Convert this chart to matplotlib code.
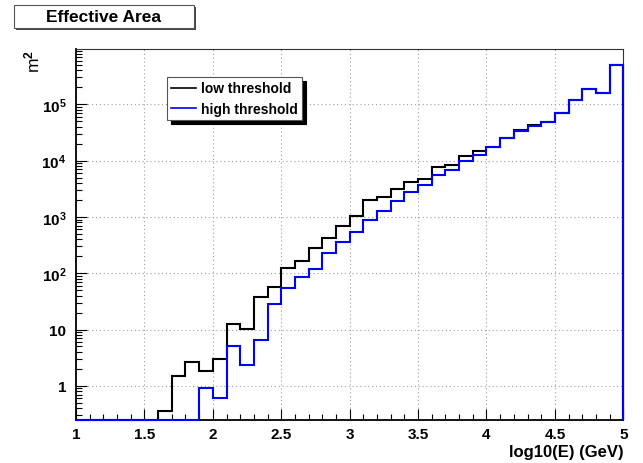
import numpy as np
import matplotlib
matplotlib.use("Agg")
import matplotlib.pyplot as plt
from matplotlib.patches import Rectangle, Shadow
from matplotlib.ticker import MultipleLocator, LogLocator, NullFormatter

plt.rcParams['font.family'] = ['Liberation Sans', 'DejaVu Sans']
plt.rcParams['font.weight'] = 'bold'
plt.rcParams['mathtext.fontset'] = 'custom'
plt.rcParams['mathtext.rm'] = 'Liberation Sans:bold'
plt.rcParams['mathtext.bf'] = 'Liberation Sans:bold'
plt.rcParams['mathtext.default'] = 'rm'

# histogram: 40 bins of log10(E) from 1 to 5
edges = np.linspace(1.0, 5.0, 41)
low_thr = [0, 0, 0, 0, 0, 0, 0.35, 1.49, 2.7, 1.85,
           3.0, 12.3, 10.3, 38, 56, 126, 168, 285, 430, 690,
           1055, 1970, 2230, 3180, 4160, 4780, 7600, 8260, 11900, 14600,
           17200, 24900, 34900, 43500, 49000, 70000, 119000, 187000, 161000, 499000]
high_thr = [0, 0, 0, 0, 0, 0, 0, 0, 0, 0.93,
            0.6, 5.0, 2.3, 6.4, 28.6, 54, 84, 121, 229, 359,
            540, 870, 1260, 1950, 2730, 3690, 5630, 6810, 10000, 12800,
            17200, 24900, 33100, 41700, 49000, 70000, 119000, 187000, 161000, 499000]
labels = ['low threshold', 'high threshold']
colors = ['black', '#0000ff']

ymin, ymax = 0.247, 9.5e5
yticks = [1, 10, 100, 1e3, 1e4, 1e5]
yticklabels = ['1', '10', '$10^{2}$', '$10^{3}$', '$10^{4}$', '$10^{5}$']
xticks = [1, 1.5, 2, 2.5, 3, 3.5, 4, 4.5, 5]
xticklabels = ['1', '1.5', '2', '2.5', '3', '3.5', '4', '4.5', '5']

fig = plt.figure(figsize=(6.43, 4.64), dpi=100)
ax = fig.add_axes([76/643, 43/464, 547.3/643, 370.7/464])

handles = []
for vals, lab, col in zip([low_thr, high_thr], labels, colors):
    v = np.maximum(np.array(vals, dtype=float), ymin)
    h = ax.stairs(v, edges, baseline=ymin, color=col, lw=1.5, label=lab,
                  zorder=3, clip_on=False)
    handles.append(h)

ax.set_yscale('log')
ax.set_xlim(1, 5)
ax.set_ylim(ymin, ymax)
ax.set_xticks(xticks)
ax.set_xticklabels(xticklabels)
ax.set_yticks(yticks)
ax.set_yticklabels(yticklabels)
ax.xaxis.set_minor_locator(MultipleLocator(0.1))
ax.yaxis.set_minor_locator(LogLocator(base=10, subs=np.arange(2, 10)))
ax.yaxis.set_minor_formatter(NullFormatter())
ax.tick_params(which='major', direction='in', length=8, width=0.8,
               labelsize=11, colors='black')
ax.tick_params(which='minor', direction='in', length=4, width=0.8)
ax.tick_params(axis='x', pad=5)
ax.tick_params(axis='y', pad=7)
ax.grid(True, which='major', color='#a0a0a0', lw=0.8, ls=(0, (1, 2.5)))
ax.set_axisbelow(True)
for s in ['left', 'bottom']:
    ax.spines[s].set_linewidth(1.3)
for s in ['top', 'right']:
    ax.spines[s].set_linewidth(0.8)
    ax.spines[s].set_color('#333333')

ax.set_xlabel('log10(E) (GeV)', fontsize=12, fontweight='bold',
              ha='right', va='baseline')
ax.xaxis.set_label_coords(1.0, -0.097)
ax.set_ylabel('m$^{2}$', fontsize=12.5, ha='right', va='bottom')
ax.yaxis.set_label_coords(-0.062, 1.0)

leg = ax.legend(handles=[plt.Line2D([], [], color=c, lw=1.2) for c in colors],
                labels=labels, loc='upper left', bbox_to_anchor=(0.1657, 0.9245),
                borderaxespad=0, fancybox=False, edgecolor='#555555',
                framealpha=1, prop={'size': 10, 'weight': 'bold'},
                handlelength=1.8, handletextpad=0.35, labelspacing=0.45,
                borderpad=0.3)
leg.get_frame().set_linewidth(0.8)
shadow = Shadow(leg.legendPatch, 3.0, -3.0, facecolor='black', edgecolor='black', alpha=1)
shadow.set_zorder(leg.get_zorder() - 0.1)
ax.add_artist(shadow)

# title box with shadow
W, H = 643, 464
fig.add_artist(Rectangle((16/W, 1 - 31/H), 180/W, 23/H, transform=fig.transFigure,
                         facecolor='#444444', edgecolor='none'))
fig.add_artist(Rectangle((14/W, 1 - 29/H), 180/W, 23/H, transform=fig.transFigure,
                         facecolor='white', edgecolor='#555555', lw=0.8))
fig.text(104/W, 1 - 17.5/H, 'Effective Area', fontsize=12.5, fontweight='bold',
         ha='center', va='center')

fig.canvas.draw()
fig.savefig('out.png', dpi=100)
